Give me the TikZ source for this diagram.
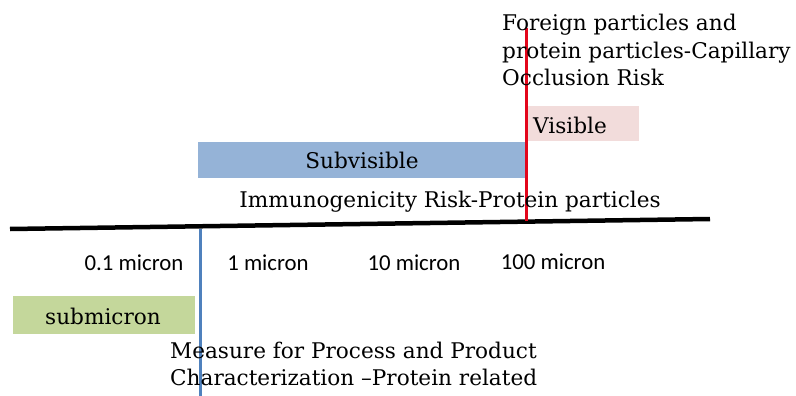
\documentclass[tikz,border=0pt]{standalone}
\usepackage{fontspec}
\setmainfont{DejaVu Serif}
\newfontfamily\labfont{Carlito}
\definecolor{subblue}{HTML}{95B3D7}
\definecolor{vispink}{HTML}{F2DCDB}
\definecolor{subgreen}{HTML}{C4D79B}
\definecolor{redline}{HTML}{E3061B}
\definecolor{blueline}{HTML}{4F81BD}
\begin{document}
\begin{tikzpicture}[x=1pt,y=-1pt,
  serift/.style={font=\fontsize{21.6}{27.5}\selectfont, inner sep=0pt},
  labt/.style={font=\labfont\fontsize{22.8}{26}\selectfont, inner sep=0pt}]
\useasboundingbox (0,0) rectangle (796,396);
% bands
\fill[subblue] (198,142) rectangle (526,178);
\fill[vispink] (526,106) rectangle (639,141);
\fill[subgreen] (13,296) rectangle (195,334);
\node[serift] (sub) at (362,160) {Subvisible};
\node[serift] (vis) at (570,125) {Visible};
\node[serift] (submic) at (103,316) {submicron};
% axis
\coordinate (axL) at (10,229);
\coordinate (axR) at (710,219);
\draw[line width=4.5pt] (axL) -- (axR);
% red and blue lines
\coordinate (rT) at (526,28);
\coordinate (rB) at (526,221);
\draw[redline, line width=3pt] (rT) -- (rB);
\coordinate (bT) at (200,229);
\coordinate (bB) at (200,396);
\draw[blueline, line width=3pt] (bT) -- (bB);
% texts
\node[serift, anchor=west, align=left] (foreign) at (502,50) {Foreign particles and\\protein particles-Capillary\\Occlusion Risk};
\node[serift] (immuno) at (450,202) {Immunogenicity Risk-Protein particles};
\node[serift, anchor=west, align=left] (measure) at (170,364) {Measure for Process and Product\\Characterization –Protein related};
\node[labt] (m01) at (134,263) {0.1 micron};
\node[labt] (m1) at (268,263) {1 micron};
\node[labt] (m10) at (414,263) {10 micron};
\node[labt] (m100) at (553,262) {100 micron};
\end{tikzpicture}
\end{document}
